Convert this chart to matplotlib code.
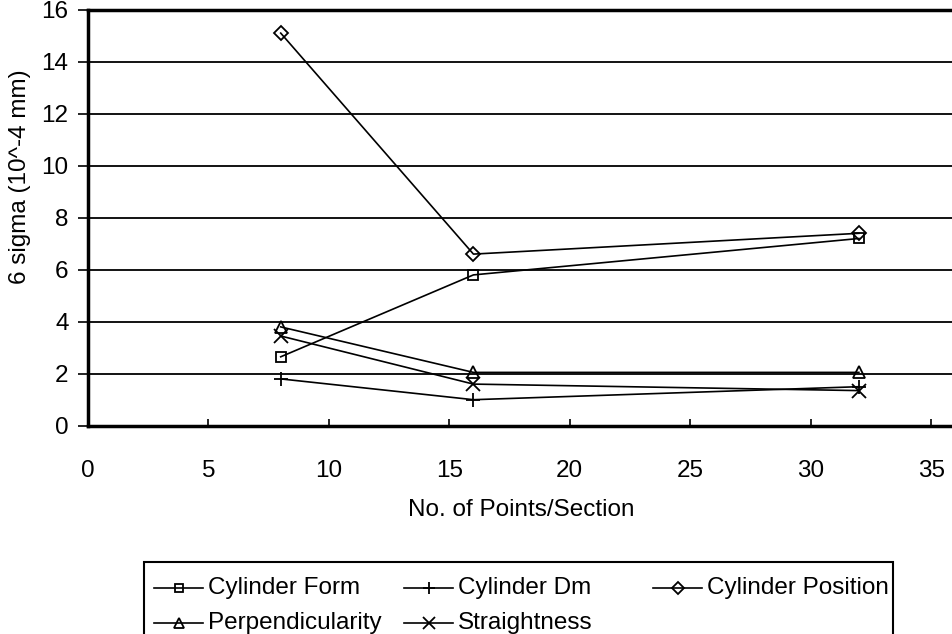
import matplotlib
matplotlib.use("Agg")
import matplotlib.pyplot as plt
from matplotlib.lines import Line2D
from matplotlib.patches import Rectangle

plt.rcParams['font.family'] = ['Liberation Sans', 'DejaVu Sans']

x_points = [8, 16, 32]
cyl_form = [2.65, 5.8, 7.2]
cyl_dm = [1.8, 1.0, 1.5]
cyl_pos = [15.1, 6.6, 7.4]
perpendicularity = [3.8, 2.05, 2.05]
straightness = [3.45, 1.6, 1.35]

names = ["Cylinder Form", "Cylinder Dm", "Cylinder Position", "Perpendicularity", "Straightness"]
values = [cyl_form, cyl_dm, cyl_pos, perpendicularity, straightness]
markers = ['s', '+', 'D', '^', 'x']
msizes = [7.5, 10, 7.5, 8.5, 10]

FS = 17.5
W, H = 952, 634

fig = plt.figure(figsize=(W/100, H/100), dpi=100)
x0px, y0px = 88, 425.7
ppx, ppy = 24.09, 26.0
ax = fig.add_axes([x0px/W, 1-y0px/H, 40*ppx/W, 16*ppy/H])

for name, vals, mk, ms in zip(names, values, markers, msizes):
    ax.plot(x_points, vals, color='black', lw=1.2, marker=mk,
            markersize=ms, markerfacecolor='none', markeredgecolor='black',
            markeredgewidth=1.3, zorder=3, clip_on=False)

ax.set_xlim(0, 40)
ax.set_ylim(0, 16)
ax.set_xticks(range(0, 40, 5))
ax.set_yticks(range(0, 17, 2))
ax.tick_params(axis='x', direction='in', length=5, width=1.2, labelsize=FS, pad=25)
ax.tick_params(axis='y', direction='out', length=7, width=1.2, labelsize=FS, pad=7)
for y in range(2, 16, 2):
    ax.axhline(y, color='black', lw=1.3, zorder=1)
for s in ['left', 'bottom', 'top']:
    ax.spines[s].set_linewidth(2.5)
ax.spines['right'].set_visible(False)

fig.text(521/W, 1-510/H, "No. of Points/Section", ha='center', va='center', fontsize=FS)
fig.text(20/W, 1-177/H, "6 sigma (10^-4 mm)", ha='center', va='center', rotation=90, fontsize=FS)

# legend drawn as a box with three uniform columns, entries filled row-wise
box_left, box_top, box_right = 144, 562, 893
fig.patches.append(Rectangle((box_left/W, -0.05), (box_right-box_left)/W, 1-box_top/H + 0.05,
                             transform=fig.transFigure, fill=False, edgecolor='black',
                             linewidth=1.5, clip_on=False))
col_x = [154, 404, 653]
row_y = [588, 623]
hl = 49
for i, (name, mk, ms) in enumerate(zip(names, markers, msizes)):
    r, c = divmod(i, 3)
    xs, yc = col_x[c], row_y[r]
    fig.lines.append(Line2D([xs/W, (xs+hl)/W], [1-yc/H, 1-yc/H], transform=fig.transFigure,
                            color='black', lw=1.2))
    fig.lines.append(Line2D([(xs+hl/2)/W], [1-yc/H], transform=fig.transFigure,
                            color='black', marker=mk, markersize=ms*0.85,
                            markerfacecolor='none', markeredgewidth=1.3))
    fig.text((xs+hl+5)/W, 1-yc/H, name, ha='left', va='center', fontsize=FS)

fig.savefig("out.png", dpi=100)
